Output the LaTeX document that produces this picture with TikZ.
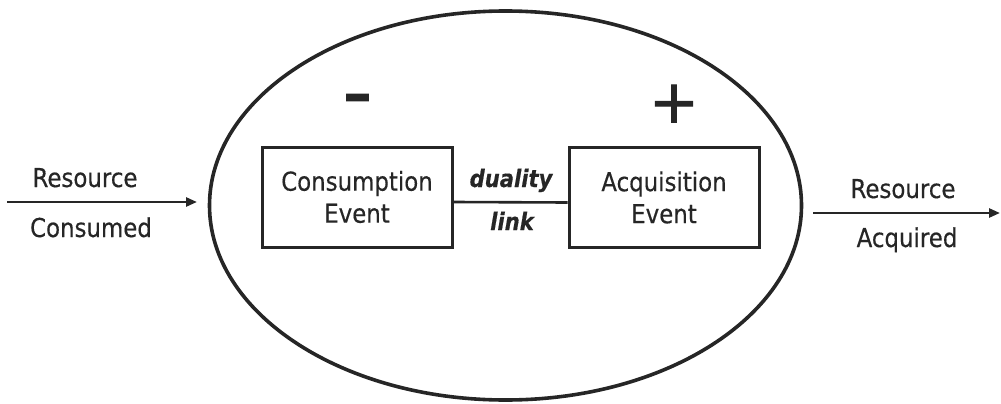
\documentclass[tikz,border=0pt]{standalone}
\usepackage{fontspec}
\setmainfont{DejaVu Sans}[FakeStretch=0.88,FakeBold=0.4]
\newfontfamily\signfont{DejaVu Sans}[FakeBold=1.5]
\usetikzlibrary{shapes.geometric,arrows.meta}
\definecolor{ink}{gray}{0.15}
\tikzset{
  label/.style={anchor=base,inner sep=0pt,text=ink,font=\fontsize{26}{32}\selectfont},
  linklabel/.style={anchor=base,inner sep=0pt,text=ink,font=\fontsize{24}{30}\selectfont\bfseries\itshape},
  eventbox/.style={draw=ink,line width=3pt,minimum width=190pt,minimum height=100pt,
    inner sep=0pt,align=center,text=ink,font=\fontsize{26}{32}\selectfont},
  flow/.style={draw=ink,line width=2.5pt,-{Triangle[length=11pt,width=9pt]}},
  sign/.style={anchor=base,inner sep=0pt,text=ink},
}
\begin{document}
\begin{tikzpicture}[x=1pt,y=-1pt]
\useasboundingbox (0,0) rectangle (1001,404);

% exchange process boundary
\node[draw=ink,line width=3.6pt,ellipse,minimum width=592pt,minimum height=389pt,inner sep=0pt]
  (process) at (505.5,205.5) {};

% the two economic events
\node[eventbox] (cons) at (357,197) {Consumption\\Event};
\node[eventbox] (acq) at (664,197.5) {Acquisition\\Event};
\draw[ink,line width=2.6pt] ([yshift=-5pt]cons.east) -- ([yshift=-5pt]acq.west);
\node[linklabel] (dual) at (511,187) {duality};
\node[linklabel] (lnk) at (512,230) {link};

% decrement / increment signs
\node[sign,font=\signfont\fontsize{82}{82}\selectfont] (minus) at (357.5,120) {-};
\node[sign,font=\signfont\fontsize{60}{60}\selectfont] (plus) at (674,122.5) {+};

% resource flows in and out
\coordinate (inA) at (7,202);
\coordinate (inB) at (197,202);
\draw[flow] (inA) -- (inB);
\node[label] (resIn) at (85,187) {Resource};
\node[label] (consumed) at (91,237) {Consumed};

\coordinate (outA) at (813,213);
\coordinate (outB) at (1000,213);
\draw[flow] (outA) -- (outB);
\node[label] (resOut) at (903,198) {Resource};
\node[label] (acquired) at (907,247) {Acquired};
\end{tikzpicture}
\end{document}
